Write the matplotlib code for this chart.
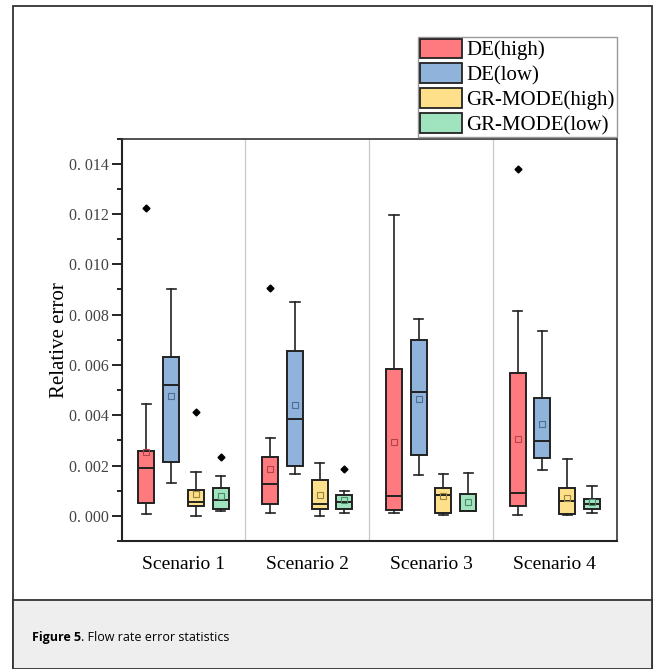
import numpy as np
import matplotlib
matplotlib.use("Agg")
import matplotlib.pyplot as plt
from matplotlib.patches import Patch, Rectangle
from matplotlib.ticker import MultipleLocator, FuncFormatter

scenarios = ['Scenario 1', 'Scenario 2', 'Scenario 3', 'Scenario 4']
methods = ['DE(high)', 'DE(low)', 'GR-MODE(high)', 'GR-MODE(low)']
colors = ['#ff7a7e', '#8fb3db', '#fee08a', '#a0e3bf']
mean_colors = ['#b0444a', '#4f6e94', '#9a8440', '#4d8a6a']

# one row per method, one value per scenario
whisker_low = [[0.00007, 0.00011, 0.00012, 0.00003],
               [0.00129, 0.00168, 0.00162, 0.00184],
               [0.00000, 0.00000, 0.00002, 0.00004],
               [0.00020, 0.00012, 0.00018, 0.00011]]
q1 = [[0.00052, 0.00048, 0.00025, 0.00040],
      [0.00213, 0.00199, 0.00241, 0.00229],
      [0.00039, 0.00027, 0.00010, 0.00007],
      [0.00027, 0.00027, 0.00020, 0.00029]]
median = [[0.00191, 0.00127, 0.00078, 0.00090],
          [0.00521, 0.00385, 0.00493, 0.00298],
          [0.00057, 0.00048, 0.00082, 0.00061],
          [0.00062, 0.00054, 0.00021, 0.00046]]
q3 = [[0.00258, 0.00234, 0.00583, 0.00567],
      [0.00632, 0.00656, 0.00701, 0.00469],
      [0.00103, 0.00143, 0.00111, 0.00111],
      [0.00109, 0.00083, 0.00087, 0.00069]]
whisker_high = [[0.00443, 0.00310, 0.01197, 0.00815],
                [0.00900, 0.00852, 0.00781, 0.00733],
                [0.00175, 0.00212, 0.00166, 0.00225],
                [0.00159, 0.00098, 0.00172, 0.00118]]
means = [[0.00252, 0.00188, 0.00294, 0.00307],
         [0.00476, 0.00439, 0.00466, 0.00364],
         [0.00087, 0.00081, 0.00077, 0.00070],
         [0.00078, 0.00062, 0.00057, 0.00054]]
outliers = [[[0.01225], [0.00906], [], [0.01377]],
            [[], [], [], []],
            [[0.00411], [], [], []],
            [[0.00233], [0.00186], [], []]]

plt.rcParams['font.family'] = ['Liberation Serif', 'DejaVu Serif']

fig = plt.figure(figsize=(6.56, 6.69), dpi=100)

# outer frame and caption band
fig.add_artist(Rectangle((0.0198, 0.0), 0.974, 0.991, transform=fig.transFigure,
                         facecolor='white', edgecolor='#333333', lw=1.3, zorder=0))
fig.add_artist(Rectangle((0.0198, 0.0), 0.974, 0.1031, transform=fig.transFigure,
                         facecolor='#eeeeee', edgecolor='#333333', lw=1.3, zorder=0))

ax = fig.add_axes([0.1855, 0.1913, 0.7546, 0.6016])

xs = np.arange(1, len(scenarios) + 1)
offsets = [-0.3, -0.1, 0.1, 0.3]

for m in range(len(methods)):
    stats = []
    for s in range(len(scenarios)):
        stats.append({'whislo': whisker_low[m][s], 'q1': q1[m][s], 'med': median[m][s],
                      'q3': q3[m][s], 'whishi': whisker_high[m][s], 'mean': means[m][s],
                      'fliers': outliers[m][s]})
    ax.bxp(stats, positions=xs + offsets[m], widths=0.13, capwidths=0.075,
           patch_artist=True, showmeans=True,
           boxprops=dict(facecolor=colors[m], edgecolor='#222222', lw=1.4),
           medianprops=dict(color='#222222', lw=1.4),
           whiskerprops=dict(color='#222222', lw=1.2),
           capprops=dict(color='#222222', lw=1.2),
           meanprops=dict(marker='s', markerfacecolor='none', markeredgecolor=mean_colors[m],
                          markersize=4, markeredgewidth=0.8),
           flierprops=dict(marker='D', markerfacecolor='black', markeredgecolor='black',
                           markersize=3.5))

for xv in [1.5, 2.5, 3.5]:
    ax.axvline(xv, color='#c8c8c8', lw=0.9, zorder=0)

ax.set_xlim(0.5, 4.5)
ax.set_ylim(-0.001, 0.015)
ax.set_xticks(xs)
ax.set_xticklabels(scenarios, fontsize=14)
ax.tick_params(axis='x', length=0, pad=11)
ax.yaxis.set_major_locator(MultipleLocator(0.002))
ax.yaxis.set_minor_locator(MultipleLocator(0.001))
ax.yaxis.set_major_formatter(FuncFormatter(lambda v, p: f"{v:.3f}".replace('.', '. ')))
ax.tick_params(axis='y', which='major', length=7, width=1.2, labelsize=11.5,
               labelcolor='#444444', pad=2)
ax.tick_params(axis='y', which='minor', length=3.5, width=1.2)
for side in ['left', 'bottom']:
    ax.spines[side].set_linewidth(1.5)
    ax.spines[side].set_color('#222222')
for side in ['top', 'right']:
    ax.spines[side].set_linewidth(1.2)
    ax.spines[side].set_color('#333333')
ax.set_ylabel('Relative error', fontsize=15, labelpad=0)

handles = [Patch(facecolor=c, edgecolor='#222222', lw=1.3) for c in colors]
fig.legend(handles, methods, loc='lower right', bbox_to_anchor=(0.9405, 0.795),
           fontsize=15, frameon=True, fancybox=False, edgecolor='#999999',
           framealpha=1, borderpad=0.1, handlelength=2.05, handleheight=1.05,
           labelspacing=0.15, handletextpad=0.2, borderaxespad=0)

# caption with bold figure number
renderer = fig.canvas.get_renderer()
t1 = fig.text(0.0488, 0.0478, 'Figure 5', fontsize=9, fontweight='bold',
              family='Open Sans', va='center', ha='left')
bb = t1.get_window_extent(renderer).transformed(fig.transFigure.inverted())
fig.text(bb.x1, 0.0478, '. Flow rate error statistics', fontsize=9,
         family='Open Sans', va='center', ha='left')

fig.savefig('out.png', dpi=100)
